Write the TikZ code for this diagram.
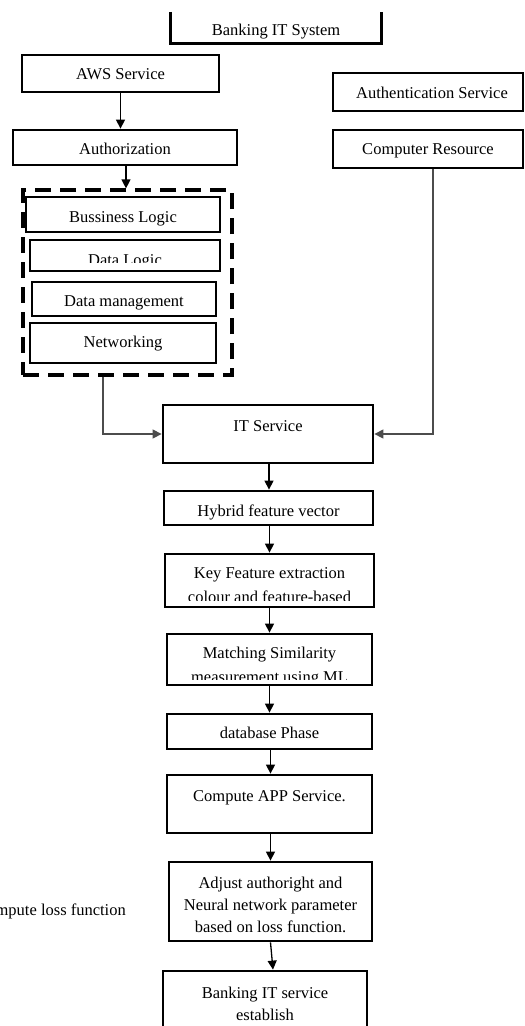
\documentclass[tikz,border=0pt]{standalone}
\usepackage{fontspec}
\setmainfont{Liberation Serif}
\usetikzlibrary{arrows.meta}
\tikzset{
  box/.style={draw, line width=2.8pt, inner sep=0pt},
  lbl/.style={anchor=base, inner sep=0pt, font=\fontsize{16.5}{19}\selectfont},
  arr/.style={line width=1.3pt, -{Triangle[length=9pt,width=9pt]}},
  longarr/.style={arr, draw=black!70},
  dashbox/.style={draw, line width=3.2pt, dash pattern=on 16pt off 9pt},
}
\begin{document}
\begin{tikzpicture}[x=1pt,y=-1pt]
\useasboundingbox (0,0) rectangle (525,1026);

% top box (three sides visible)
\node[inner sep=0pt, minimum width=210pt, minimum height=31pt] (sys) at (276,27.5) {};
\draw[line width=2.8pt] (sys.north west) -- (sys.south west) -- (sys.south east) -- (sys.north east);
\node[lbl] (syst) at (276,35) {Banking IT System};

% left column
\node[box, minimum width=197pt, minimum height=37pt] (aws) at (120.5,73.5) {};
\node[lbl] (awst) at (120.5,79.5) {AWS Service};
\node[box, minimum width=224pt, minimum height=35pt] (authz) at (125,147.5) {};
\node[lbl] (authzt) at (125,154.5) {Authorization};

% right column
\node[box, minimum width=190pt, minimum height=38pt] (authn) at (428,92) {};
\node[lbl] (authnt) at (432,98.5) {Authentication Service};
\node[box, minimum width=190pt, minimum height=38pt] (comp) at (428,149) {};
\node[lbl] (compt) at (428,154.5) {Computer Resource};

% dashed group
\node[dashbox, minimum width=209pt, minimum height=185pt, inner sep=0pt] (grp) at (127.5,282.5) {};
\node[box, minimum width=194pt, minimum height=35pt] (bl) at (123,214.5) {};
\node[lbl] (blt) at (123,222.5) {Bussiness Logic};
\node[box, minimum width=190pt, minimum height=31pt] (dl) at (125,255.5) {};
\begin{scope}
  \clip (31,241) rectangle (219,262);
  \node[lbl] (dlt) at (125,265) {Data Logic};
\end{scope}
\node[box, minimum width=184pt, minimum height=34pt] (dm) at (124,299) {};
\node[lbl] (dmt) at (124,306.5) {Data management};
\node[box, minimum width=186pt, minimum height=40pt] (net) at (123,343) {};
\node[lbl] (nett) at (123,347.5) {Networking};

% main chain
\node[box, minimum width=210pt, minimum height=58pt] (its) at (268,434) {};
\node[lbl] (itst) at (268,431.5) {IT Service};
\node[box, minimum width=209pt, minimum height=34pt] (hfv) at (268.5,508) {};
\node[lbl] (hfvt) at (268.5,516.5) {Hybrid feature vector};
\node[box, minimum width=209pt, minimum height=53pt] (kfe) at (269.5,580.5) {};
\node[lbl] (kfet1) at (269.5,578.5) {Key Feature extraction};
\begin{scope}
  \clip (166,555) rectangle (373,600);
  \node[lbl] (kfet2) at (269.5,602.5) {colour and feature-based};
\end{scope}
\node[box, minimum width=205pt, minimum height=51pt] (msm) at (269.5,659.5) {};
\node[lbl] (msmt1) at (269.5,658.5) {Matching Similarity};
\begin{scope}
  \clip (168,635) rectangle (371,679);
  \node[lbl] (msmt2) at (269.5,682.5) {measurement using ML};
\end{scope}
\node[box, minimum width=205pt, minimum height=35pt] (dbp) at (269.5,731.5) {};
\node[lbl] (dbpt) at (269.5,738.5) {database Phase};
\node[box, minimum width=205pt, minimum height=58pt] (cas) at (269.5,804) {};
\node[lbl] (cast) at (269.5,801.5) {Compute APP Service.};
\node[box, minimum width=203pt, minimum height=79pt] (adj) at (270.5,901.5) {};
\node[lbl] (adjt1) at (270.5,888.5) {Adjust authoright and};
\node[lbl] (adjt2) at (270.5,910.5) {Neural network parameter};
\node[lbl] (adjt3) at (270.5,932.5) {based on loss function.};
\node[box, minimum width=204pt, minimum height=60pt] (est) at (265,1001) {};
\node[lbl] (estt1) at (265,998.5) {Banking IT service};
\node[lbl] (estt2) at (265,1020.5) {establish};

% side text (cut at the left edge, as in the reference)
\node[lbl, anchor=base east] (loss) at (126,915.5) {Compute loss function};

% connectors
\draw[arr] (aws.south) -- (aws.south |- authz.north);
\draw[arr] ([xshift=1pt]authz.south) -- ([xshift=1pt]authz.south |- grp.north);
\draw[longarr] ([xshift=-24.5pt]grp.south) |- (its.west);
\draw[longarr] ([xshift=5pt]comp.south) |- (its.east);
\draw[arr] ([xshift=1pt]its.south) -- ([xshift=1pt]its.south |- hfv.north);
\draw[arr] ([xshift=1pt]hfv.south) -- ([xshift=1pt]hfv.south |- kfe.north);
\draw[arr] (kfe.south) -- (kfe.south |- msm.north);
\draw[arr] (msm.south) -- (msm.south |- dbp.north);
\draw[arr] ([xshift=1pt]dbp.south) -- ([xshift=1pt]dbp.south |- cas.north);
\draw[arr] ([xshift=1pt]cas.south) -- ([xshift=1pt]cas.south |- adj.north);
\draw[arr] (adj.south) -- ([xshift=8pt]est.north);
\end{tikzpicture}
\end{document}
